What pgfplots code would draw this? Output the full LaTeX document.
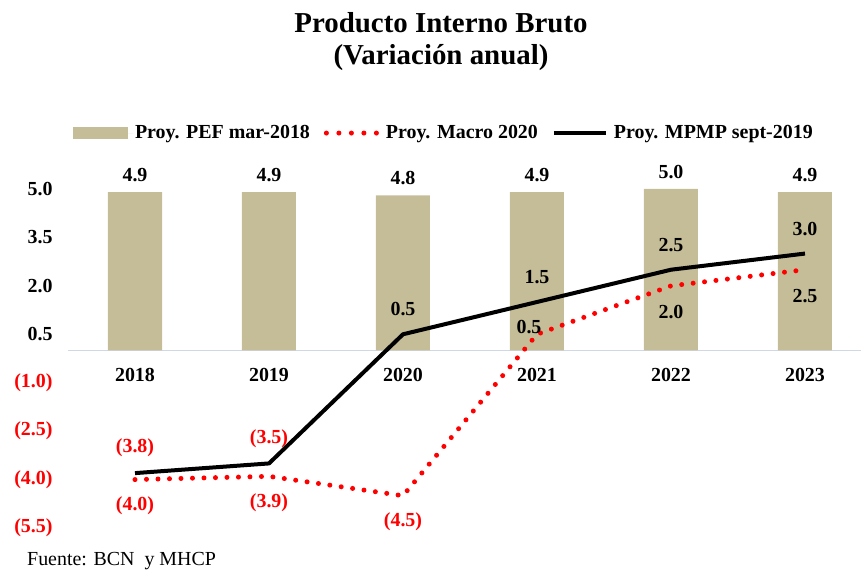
\documentclass[border=0pt]{standalone}
\usepackage{pgfplots}
\pgfplotsset{compat=1.18}
\usepackage{pgfplotstable}
\usepackage{fontspec}
\setmainfont{Liberation Serif}
\definecolor{tanbar}{RGB}{196,189,151}
\definecolor{negred}{RGB}{255,0,0}
\definecolor{axisgray}{RGB}{208,216,230}
\newcommand\lbl{\bfseries\fontsize{20}{23}\selectfont}

\pgfplotstableread{
x y lab
0 4.9 4.9
1 4.9 4.9
2 4.8 4.8
3 4.9 4.9
4 5.0 5.0
5 4.9 4.9
}\tabpef

\pgfplotstableread{
x y lab
0 -4.0 {\textcolor{negred}{(4.0)}}
1 -3.9 {\textcolor{negred}{(3.9)}}
2 -4.5 {\textcolor{negred}{(4.5)}}
3 0.5 {}
4 2.0 2.0
5 2.5 2.5
}\tabmacro

\pgfplotstableread{
x y lab
0 -3.8 {\textcolor{negred}{(3.8)}}
1 -3.5 {\textcolor{negred}{(3.5)}}
2 0.5 0.5
3 1.5 1.5
4 2.5 2.5
5 3.0 3.0
}\tabmpmp

\begin{document}
\begin{tikzpicture}
\begin{axis}[
  at={(68bp,46bp)}, anchor=south west,
  scale only axis, width=793bp, height=339bp,
  xmin=-0.5, xmax=5.418, ymin=-5.5, ymax=5.0,
  axis x line=middle, axis y line=left,
  x axis line style={-, draw=axisgray, line width=1bp},
  y axis line style={draw=none},
  xtick={0,1,2,3,4,5},
  xticklabels={2018,2019,2020,2021,2022,2023},
  ytick={-5.5,-4,-2.5,-1,0.5,2,3.5,5},
  yticklabels={\textcolor{negred}{(5.5)},\textcolor{negred}{(4.0)},\textcolor{negred}{(2.5)},\textcolor{negred}{(1.0)},0.5,2.0,3.5,5.0},
  major tick length=0pt, tick style={draw=none},
  x tick label style={anchor=center, yshift=-25bp, font=\lbl},
  y tick label style={anchor=east, xshift=-12bp, font=\lbl},
  clip=false,
  legend columns=3,
  legend cell align=left,
  legend style={at={(0.474,1.165)}, anchor=center, draw=none, fill=none, font=\lbl,
    /tikz/every even column/.append style={column sep=12bp}},
]
\addplot[ybar, bar width=54bp, fill=tanbar, draw=none,
  nodes near coords, point meta=explicit symbolic,
  nodes near coords align={center},
  every node near coord/.append style={yshift=17bp, font=\lbl, text=black},
  legend image code/.code={\fill[tanbar] (0bp,-6bp) rectangle (55bp,6bp); \path[draw=none] (0bp,0bp) -- (60bp,0bp);}]
  table[x=x,y=y,meta=lab]{\tabpef};
\addlegendentry{Proy. PEF mar-2018}

\addplot[negred, line width=5bp, line cap=round, dash pattern=on 0bp off 11.5bp, no markers,
  nodes near coords, point meta=explicit symbolic,
  nodes near coords align={center},
  every node near coord/.append style={yshift=-26bp, font=\lbl, text=black},
  legend image code/.code={\draw[negred, line width=5bp, line cap=round, dash pattern=on 0bp off 12.5bp] (2.5bp,0bp) -- (54bp,0bp); \path[draw=none] (0bp,0bp) -- (60bp,0bp);}]
  table[x=x,y=y,meta=lab]{\tabmacro};
\addlegendentry{Proy. Macro 2020}

\addplot[black, line width=4bp, line join=round, no markers,
  nodes near coords, point meta=explicit symbolic,
  nodes near coords align={center},
  every node near coord/.append style={yshift=25bp, font=\lbl, text=black},
  legend image code/.code={\draw[black, line width=4bp] (0bp,0bp) -- (52bp,0bp); \path[draw=none] (0bp,0bp) -- (58bp,0bp);}]
  table[x=x,y=y,meta=lab]{\tabmpmp};
\addlegendentry{Proy. MPMP sept-2019}

\addplot[draw=none, no markers, forget plot,
  nodes near coords, point meta=explicit symbolic,
  nodes near coords align={center},
  every node near coord/.append style={xshift=-8bp, yshift=7bp, font=\lbl, text=black}]
  coordinates {(3,0.5) [0.5]};
\end{axis}
\node[font=\bfseries\fontsize{29}{33}\selectfont, align=center] at (441bp,532.5bp)
  {Producto Interno Bruto\\(Variación anual)};
\node[anchor=west, inner sep=0pt, font=\fontsize{20}{23}\selectfont] at (27bp,13bp)
  {Fuente: BCN\enspace y MHCP};
\pgfresetboundingbox
\path[use as bounding box] (0bp,0bp) rectangle (861bp,574bp);
\end{tikzpicture}
\end{document}
